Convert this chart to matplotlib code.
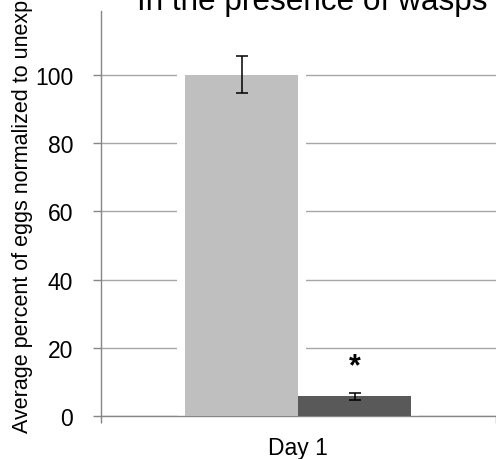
import matplotlib
matplotlib.use("Agg")
import matplotlib.pyplot as plt

plt.rcParams['font.family'] = ['Liberation Sans', 'DejaVu Sans']

# data
days = ['Day 1']
series_names = ['Unexposed', 'Wasp exposed']
means = [100.0, 5.8]
errors = [5.4, 1.0]
stars = ['', '*']
star_y = [None, 14.6]
yticks = [0, 20, 40, 60, 80, 100]

bar_colors = ['#bfbfbf', '#595959']
axis_gray = '#868686'
grid_gray = '#a6a6a6'

fig = plt.figure(figsize=(4.96, 4.60), dpi=100)
ax = fig.add_axes([101 / 496, 42.7 / 460, 394.5 / 496, 405.3 / 460])

width = 0.287
offsets = [-width / 2, width / 2]

# white "shadow" halo behind each bar, like the Excel original
for off, m in zip(offsets, means):
    ax.bar(off, m + 1.8, width=width + 0.04, color='white', zorder=2)

for off, m, e, c in zip(offsets, means, errors, bar_colors):
    ax.bar(off, m, width=width, color=c, zorder=3)
    ax.errorbar(off, m, yerr=e, fmt='none', ecolor='black',
                elinewidth=1.1, capsize=4.5, capthick=1.1, zorder=4)

for off, s, sy in zip(offsets, stars, star_y):
    if s:
        ax.text(off, sy, s, ha='center', va='center', fontsize=22,
                fontweight='bold', zorder=5)

ax.set_xlim(-0.5, 0.5)
ax.set_ylim(0, 118.6)
ax.set_yticks(yticks)
ax.yaxis.grid(True, color=grid_gray, linewidth=1.0, zorder=0)
ax.set_axisbelow(True)

ax.set_xticks([0])
ax.set_xticklabels(days)
ax.set_xticks([-0.5, 0.5], minor=True)
ax.tick_params(axis='x', which='major', length=0, pad=14, labelsize=16.5)
ax.tick_params(axis='x', which='minor', length=5, width=1, color=axis_gray)
ax.tick_params(axis='y', length=6, width=1, color=axis_gray, pad=14,
               labelsize=16.5)

for side in ['top', 'right']:
    ax.spines[side].set_visible(False)
for side in ['left', 'bottom']:
    ax.spines[side].set_color(axis_gray)
    ax.spines[side].set_linewidth(1.0)

fig.text(312.5 / 496, (460 - 10) / 460, 'In the presence of wasps',
         ha='center', va='baseline', fontsize=22.7)
fig.text(22.5 / 496, (460 - 433) / 460,
         'Average percent of eggs normalized to unexposed',
         rotation=90, ha='center', va='bottom', fontsize=15.5)

fig.savefig('out.png', dpi=100)
